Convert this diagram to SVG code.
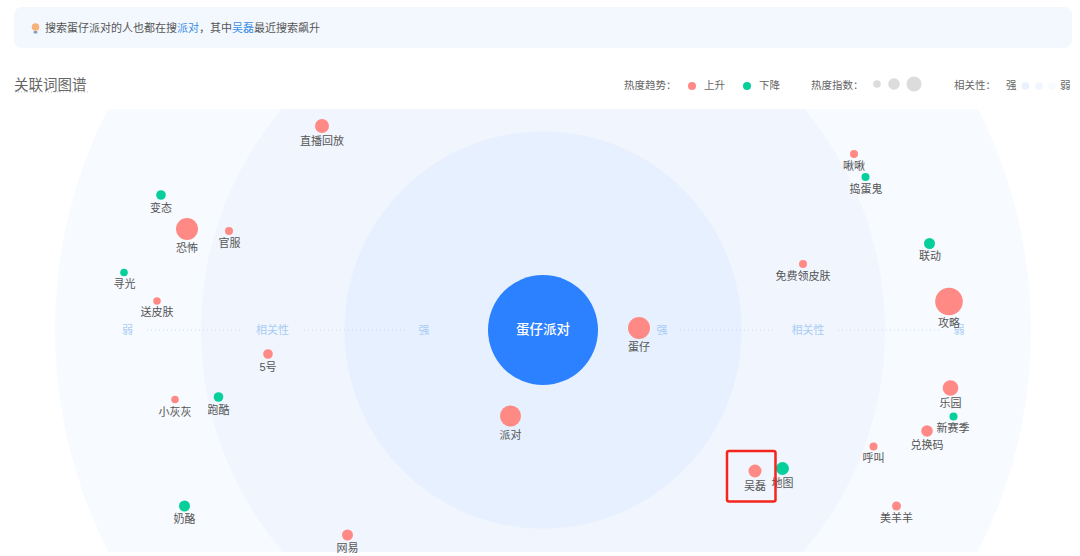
<svg xmlns="http://www.w3.org/2000/svg" width="1080" height="556" viewBox="0 0 1080 556">
<style>
text{font-family:"Liberation Sans","Noto Sans CJK SC",sans-serif;}
.l{font-size:11px;fill:#555;text-anchor:middle;}
.h{font-size:10.500px;fill:#666;}
.a{font-size:11px;fill:#a9ccf5;text-anchor:middle;}
.up{fill:#ff8a85;}
.dn{fill:#06cf9c;}
.g{fill:#dcdcdc;}
.d{stroke:#c5daf5;stroke-width:1;stroke-dasharray:1 3;fill:none;}
</style>
<defs><clipPath id="c"><rect x="0" y="109" width="1080" height="443"/></clipPath></defs>
<rect width="1080" height="556" fill="#fff"/>
<rect x="14" y="7" width="1058" height="41" rx="8" fill="#f3f8fe"/>
<g id="tip">
<circle cx="35.500" cy="27" r="3.800" fill="#f7b27c"/>
<rect x="33.500" y="31" width="4" height="2.500" rx="1" fill="#8a9fc0"/>
<text x="45" y="32" font-size="11px" fill="#555">搜索蛋仔派对的人也都在搜<tspan fill="#3a8ee6">派对</tspan>，其中<tspan fill="#3a8ee6">吴磊</tspan>最近搜索飙升</text>
</g>
<text x="14" y="90" font-size="14.500" fill="#666">关联词图谱</text>
<line x1="15" y1="92" x2="88" y2="92" stroke="#bbb" stroke-dasharray="1 2"/>
<g id="legend">
<text class="h" x="624" y="89">热度趋势：</text>
<circle class="up" cx="692" cy="86" r="4"/>
<text class="h" x="704" y="89">上升</text>
<circle class="dn" cx="747" cy="86" r="4"/>
<text class="h" x="759" y="89">下降</text>
<text class="h" x="811" y="89">热度指数：</text>
<circle class="g" cx="877" cy="84" r="3.800"/>
<circle class="g" cx="894" cy="84" r="5.800"/>
<circle class="g" cx="914" cy="84" r="7.500"/>
<text class="h" x="954" y="89">相关性：</text>
<text class="h" x="1006" y="89">强</text>
<circle cx="1025.500" cy="86" r="3.800" fill="#e9f1fe"/>
<circle cx="1039" cy="86" r="3.800" fill="#f0f5fe"/>
<circle cx="1052" cy="86" r="3.800" fill="#f7faff"/>
<text class="h" x="1060" y="89">弱</text>
</g>
<g id="rings" clip-path="url(#c)">
<circle cx="543" cy="330" r="488" fill="#f7faff"/>
<circle cx="543" cy="330" r="342" fill="#f0f5fe"/>
<circle cx="543" cy="330" r="198.500" fill="#e6f0fe"/>
</g>
<g id="connectors">
<line class="d" x1="147" y1="330" x2="241" y2="330"/>
<line class="d" x1="304" y1="330" x2="405" y2="330"/>
<line class="d" x1="680" y1="330" x2="776" y2="330"/>
<line class="d" x1="838" y1="330" x2="940" y2="330"/>
</g>
<g id="axis">
<text class="a" x="127.500" y="334">弱</text>
<text class="a" x="272.500" y="334">相关性</text>
<text class="a" x="424" y="334">强</text>
<text class="a" x="662" y="334">强</text>
<text class="a" x="808" y="334">相关性</text>
<text class="a" x="959" y="334">弱</text>
</g>
<g id="center"><circle cx="543" cy="330" r="55" fill="#2b81ff"/><text x="543" y="334" font-size="13.500" font-weight="500" fill="#fff" text-anchor="middle">蛋仔派对</text></g>
<g id="n1"><circle class="up" cx="322" cy="126" r="7"/><text class="l" x="322" y="145">直播回放</text></g>
<g id="n2"><circle class="dn" cx="161" cy="195" r="4.800"/><text class="l" x="161" y="212">变态</text></g>
<g id="n3"><circle class="up" cx="187" cy="229" r="11"/><text class="l" x="187" y="252">恐怖</text></g>
<g id="n4"><circle class="up" cx="229" cy="231" r="4"/><text class="l" x="229.500" y="247">官服</text></g>
<g id="n5"><circle class="dn" cx="124" cy="272.500" r="3.800"/><text class="l" x="124.500" y="288">寻光</text></g>
<g id="n6"><circle class="up" cx="157" cy="301" r="3.800"/><text class="l" x="157" y="316">送皮肤</text></g>
<g id="n7"><circle class="up" cx="268" cy="354" r="4.800"/><text class="l" x="268" y="371">5号</text></g>
<g id="n8"><circle class="up" cx="175" cy="399.500" r="3.800"/><text class="l" x="175" y="416">小灰灰</text></g>
<g id="n9"><circle class="dn" cx="218.500" cy="397" r="4.800"/><text class="l" x="218.500" y="414">跑酷</text></g>
<g id="n10"><circle class="dn" cx="184.500" cy="506" r="5.500"/><text class="l" x="184.500" y="523">奶酪</text></g>
<g id="n11"><circle class="up" cx="347.500" cy="535" r="5.500"/><text class="l" x="347.500" y="552">网易</text></g>
<g id="n12"><circle class="up" cx="510.500" cy="416" r="10.500"/><text class="l" x="510.500" y="439">派对</text></g>
<g id="n13"><circle class="up" cx="639" cy="328" r="11"/><text class="l" x="639" y="351">蛋仔</text></g>
<g id="n14"><circle class="up" cx="854" cy="154" r="4"/><text class="l" x="854" y="170">啾啾</text></g>
<g id="n15"><circle class="dn" cx="865.500" cy="177" r="4"/><text class="l" x="866" y="193">捣蛋鬼</text></g>
<g id="n16"><circle class="dn" cx="929.500" cy="243.500" r="5.500"/><text class="l" x="930" y="260">联动</text></g>
<g id="n17"><circle class="up" cx="803" cy="264" r="4"/><text class="l" x="803" y="280">免费领皮肤</text></g>
<g id="n18"><circle class="up" cx="949" cy="301.500" r="13.800"/><text class="l" x="949" y="327">攻略</text></g>
<g id="n19"><circle class="up" cx="950.500" cy="388" r="7.800"/><text class="l" x="950.500" y="407">乐园</text></g>
<g id="n20"><circle class="dn" cx="953.500" cy="416.500" r="4"/><text class="l" x="953" y="432">新赛季</text></g>
<g id="n21"><circle class="up" cx="927" cy="431" r="5.800"/><text class="l" x="927" y="449">兑换码</text></g>
<g id="n22"><circle class="up" cx="873.500" cy="446.500" r="4"/><text class="l" x="873.500" y="462">呼叫</text></g>
<g id="n23"><circle class="up" cx="896.500" cy="506" r="4.500"/><text class="l" x="896.500" y="522">美羊羊</text></g>
<g id="n24"><circle class="dn" cx="782.500" cy="468.500" r="6.500"/><text class="l" x="782.500" y="487">地图</text></g>
<g id="n25"><circle class="up" cx="755" cy="471" r="6.500"/><text class="l" x="755" y="490">吴磊</text></g>
<rect x="727" y="451" width="48.500" height="50.500" rx="2" fill="none" stroke="#f5251c" stroke-width="2.500"/>
</svg>
